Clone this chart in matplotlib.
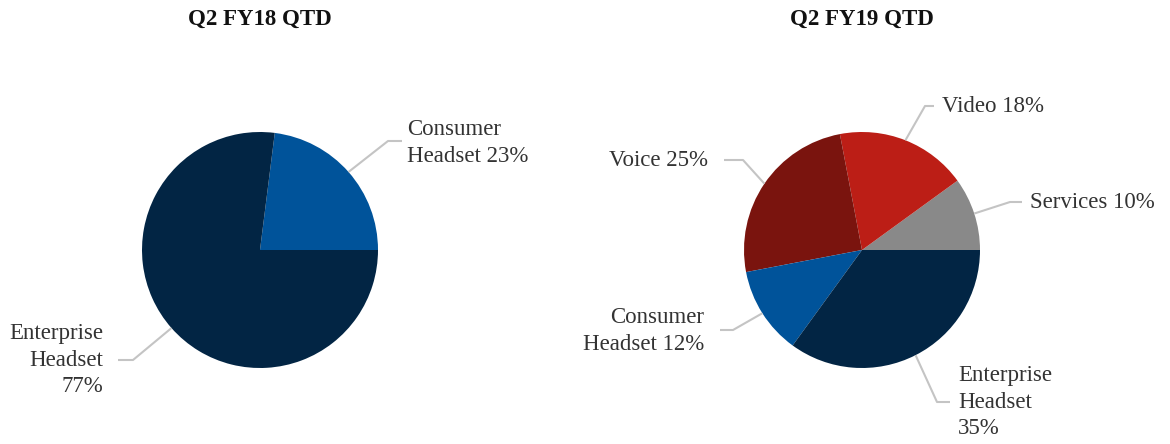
import numpy as np
import matplotlib
matplotlib.use("Agg")
import matplotlib.pyplot as plt

titles = ["Q2 FY18 QTD", "Q2 FY19 QTD"]

fy18_labels = ["Consumer\nHeadset", "Enterprise\nHeadset\n"]
fy18_values = [23, 77]
fy18_colors = ["#00539a", "#022544"]

fy19_labels = ["Services", "Video", "Voice", "Consumer\nHeadset", "Enterprise\nHeadset\n"]
fy19_values = [10, 18, 25, 12, 35]
fy19_colors = ["#898989", "#bc1e16", "#7a140e", "#00539a", "#022544"]

W, H = 1170, 444
fig = plt.figure(figsize=(W / 100, H / 100), dpi=100)
ax = fig.add_axes([0, 0, 1, 1])
ax.axis("off")

FONT = "Liberation Serif"
TXT = "#333333"
LINE = "#c4c4c4"

def Y(y):
    return H - y

# layout: (elbow x, elbow y, end x, text x, text y, ha) in pixel coords
layout18 = [
    (388, 141, 402, 407, 143, "left"),
    (133, 360, 118, 103, 360, "right"),
]
layout19 = [
    (1010, 202, 1022, 1030, 203, "left"),
    (925, 106, 934, 942, 107, "left"),
    (743, 160, 724, 708, 161, "right"),
    (733, 330, 720, 704, 331, "right"),
    (937, 402, 950, 958, 402, "left"),
]

def draw(cx, cy, r, labels, values, colors, layout, title):
    wedges, _ = ax.pie(values, colors=colors, startangle=0, counterclock=True,
                       center=(cx, Y(cy)), radius=r,
                       wedgeprops=dict(linewidth=0))
    ax.text(cx, Y(19), title, ha="center", va="center", fontsize=16.5,
            fontweight="bold", family=FONT, color="#111111")
    for w, lab, val, (ex, ey, hx, tx, ty, ha) in zip(wedges, labels, values, layout):
        ang = np.deg2rad((w.theta1 + w.theta2) / 2)
        px = cx + r * np.cos(ang)
        py = Y(cy) + r * np.sin(ang)
        ax.plot([px, ex, hx], [py, Y(ey), Y(ey)], color=LINE, lw=1.5,
                solid_capstyle="butt", zorder=1)
        sep = "" if lab.endswith("\n") else " "
        ax.text(tx, Y(ty), f"{lab}{sep}{val}%", ha=ha, va="center",
                multialignment=ha, fontsize=16.5, family=FONT, color=TXT,
                linespacing=1.32)

draw(260, 250, 118, fy18_labels, fy18_values, fy18_colors, layout18, titles[0])
draw(862, 250, 118, fy19_labels, fy19_values, fy19_colors, layout19, titles[1])
ax.set_aspect("equal")
ax.set_xlim(0, W)
ax.set_ylim(0, H)

fig.savefig("out.png", dpi=100)
